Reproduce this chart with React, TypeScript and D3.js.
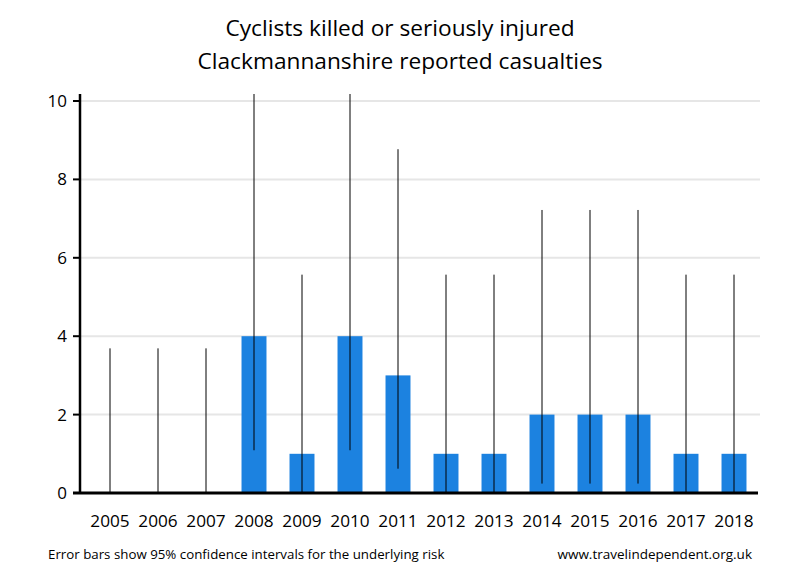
import React from "react";
import * as d3 from "d3";

const years = ["2005","2006","2007","2008","2009","2010","2011","2012","2013","2014","2015","2016","2017","2018"];
const casualties = [0,0,0,4,1,4,3,1,1,2,2,2,1,1];
const ciLow = [0,0,0,1.09,0.025,1.09,0.62,0.025,0.025,0.24,0.24,0.24,0.025,0.025];
const ciHigh = [3.69,3.69,3.69,10.24,5.57,10.24,8.77,5.57,5.57,7.22,7.22,7.22,5.57,5.57];
const yTicks = [0,2,4,6,8,10];
const titleLines = ["Cyclists killed or seriously injured","Clackmannanshire reported casualties"];
const footLeft = "Error bars show 95% confidence intervals for the underlying risk";
const footRight = "www.travelindependent.org.uk";

const W = 800, H = 580;
const left = 80, right = 760, top = 94, bottom = 493;
const font = "'Open Sans', 'Noto Sans', sans-serif";

export default function App() {
  const x = d3.scaleBand().domain(years).range([86, 758]).paddingInner(0.48).paddingOuter(0.24);
  const y = d3.scaleLinear().domain([0, 10]).range([bottom, bottom - 392]);
  const yMaxVal = y.invert(top);
  return (
    <svg width={W} height={H} style={{ position: "absolute", left: 0, top: 0, background: "#fff" }} fontFamily={font}>
      {titleLines.map((t, i) => (
        <text key={i} x={400} y={36 + i * 33} textAnchor="middle" fontSize={22.7} fill="#000">{t}</text>
      ))}
      {yTicks.filter(v => v > 0).map(v => (
        <line key={v} x1={left} x2={right} y1={y(v)} y2={y(v)} stroke="#e6e6e6" strokeWidth={2} />
      ))}
      {years.map((yr, i) => {
        const bx = x(yr)!;
        const w = x.bandwidth();
        const cx = bx + w / 2;
        return (
          <g key={yr}>
            {casualties[i] > 0 && (
              <rect x={bx} y={y(casualties[i])} width={w} height={y(0) - y(casualties[i])} fill="#1c82e0" />
            )}
            <line x1={cx} x2={cx} y1={y(ciLow[i])} y2={y(Math.min(ciHigh[i], yMaxVal))} stroke="#000" strokeWidth={1} />
          </g>
        );
      })}
      <line x1={left} x2={left} y1={top} y2={bottom + 1} stroke="#000" strokeWidth={2.5} />
      <line x1={73} x2={758} y1={bottom} y2={bottom} stroke="#000" strokeWidth={3} />
      {yTicks.map(v => (
        <g key={v}>
          <line x1={73} x2={left} y1={y(v)} y2={y(v)} stroke="#000" strokeWidth={2} />
          <text x={67} y={y(v)} dy="0.35em" textAnchor="end" fontSize={17} fill="#000">{v}</text>
        </g>
      ))}
      {years.map(yr => (
        <text key={yr} x={x(yr)! + x.bandwidth() / 2} y={527} textAnchor="middle" fontSize={17.2} fill="#000">{yr}</text>
      ))}
      <text x={48} y={559} fontSize={13.3} fill="#000">{footLeft}</text>
      <text x={752} y={559} textAnchor="end" fontSize={13.5} fill="#000">{footRight}</text>
    </svg>
  );
}
